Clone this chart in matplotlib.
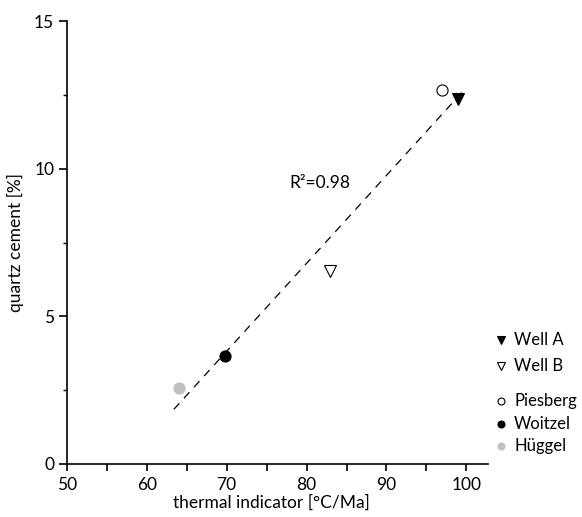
import matplotlib
matplotlib.use('Agg')
import matplotlib.pyplot as plt
from matplotlib.ticker import MultipleLocator

plt.rcParams['font.family'] = ['Lato', 'DejaVu Sans']

# data
names = ['Well A', 'Well B', 'Piesberg', 'Woitzel', 'Hüggel']
thermal = [99.0, 82.9, 97.0, 69.8, 64.0]
cement = [12.35, 6.55, 12.66, 3.67, 2.58]
markers = ['v', 'v', 'o', 'o', 'o']
faces = ['black', 'white', 'white', 'black', '#c0c0c0']
edges = ['black', 'black', 'black', 'black', '#c0c0c0']

# regression line end points
fit_x = [63.4, 99.5]
fit_y = [1.85, 12.6]
r2_text = 'R²=0.98'

fig = plt.figure(figsize=(5.82, 5.17), dpi=100)
ax = fig.add_axes([66.7/582, 1-464/517, (488-66.7)/582, (464-21)/517])

ax.plot(fit_x, fit_y, color='black', lw=0.9, dashes=(6.5, 5.5))

for i in range(len(names)):
    ms = 9 if markers[i] == 'v' else 8
    ax.plot(thermal[i], cement[i], marker=markers[i], ms=ms, mfc=faces[i],
            mec=edges[i], mew=0.8, ls='none')

ax.text(77.9, 9.53, r2_text, fontsize=12.5, ha='left', va='center')

ax.set_xlim(50, 102.7)
ax.set_ylim(0, 15)
ax.spines['top'].set_visible(False)
ax.spines['right'].set_visible(False)
ax.spines['left'].set_linewidth(1.2)
ax.spines['bottom'].set_linewidth(1.2)

ax.xaxis.set_major_locator(MultipleLocator(10))
ax.xaxis.set_minor_locator(MultipleLocator(5))
ax.yaxis.set_major_locator(MultipleLocator(5))
ax.yaxis.set_minor_locator(MultipleLocator(2.5))
ax.tick_params(axis='x', which='both', length=5, width=1.2, labelsize=12.5, pad=4)
ax.tick_params(axis='y', which='major', length=6, width=1.2, labelsize=12.5, pad=3)
ax.tick_params(axis='y', which='minor', length=3, width=1.0)

ax.set_xlabel('thermal indicator [°C/Ma]', fontsize=12.5, labelpad=1)
ax.xaxis.set_label_coords(0.485, -0.068)
ax.set_ylabel('quartz cement [%]', fontsize=12.5, labelpad=7)

# legend drawn by hand, to the right of the axes
leg_y = [0.280, 0.221, 0.142, 0.090, 0.041]
for i in range(len(names)):
    ms = 6 if markers[i] == 'v' else 5
    ax.plot(1.032, leg_y[i], marker=markers[i], ms=ms, mfc=faces[i], mec=edges[i],
            mew=0.8, transform=ax.transAxes, clip_on=False, ls='none')
    ax.text(1.062, leg_y[i], names[i], fontsize=12, ha='left', va='center',
            transform=ax.transAxes)

fig.savefig('out.png', dpi=100)
